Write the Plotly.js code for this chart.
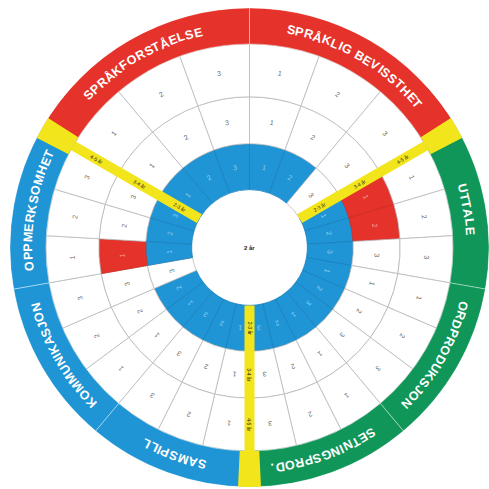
<!DOCTYPE html>
<html><head><meta charset="utf-8">
<script src="https://cdn.plot.ly/plotly-3.0.1.min.js"></script>
<style>html,body{margin:0;padding:0;background:#fff;overflow:hidden}</style>
</head><body><div id="chart" style="width:489px;height:489px"></div>
<script>
// ---------------- data ----------------
const areas = ["SPRÅKFORSTÅELSE","SPRÅKLIG BEVISSTHET","UTTALE","ORDPRODUKSJON","SETNINGSPROD.","SAMSPILL","KOMMUNIKASJON","OPPMERKSOMHET"];
const areaGroup = [0,0,1,1,1,2,2,2];
const ageLevels = ["2-3 år","3-4 år","4-5 år"];
const itemLabels = ["1","2","3"];
const centerLabel = "2 år";
// cell state: 0 = open, 1 = mastered (blue), 2 = marked (red)
const level23 = [[1,1,1],[1,1,0],[1,1,1],[1,1,1],[1,1,1],[1,1,1],[1,1,0],[1,1,1]];
const level34 = [[0,0,0],[0,0,0],[2,2,0],[0,0,0],[0,0,0],[0,0,0],[0,0,0],[2,0,0]];
const level45 = [[0,0,0],[0,0,0],[0,0,0],[0,0,0],[0,0,0],[0,0,0],[0,0,0],[0,0,0]];
const levels = [level23, level34, level45];

// ---------------- styles / geometry ----------------
const groupColors = ["#e5332b","#109659","#1f95d5"];
const yellow = "#f3e51c";
const stateFill = ["#ffffff","#1f95d5","#e5332b"];
const stateLine = ["#b9b9b9","#1a80bc","#c92b23"];
const stateText = ["#6a6a6a","#93cff0","#f6aaa5"];
const ringEdges = [58,104,151,204];
const OUTER = 240;
const START = 300, GROUPSPAN = 120;
const FONT = '"Liberation Sans", Arial, sans-serif';

const nInGroup = areaGroup.map(g => areaGroup.filter(x => x === g).length);
const areaWidth = nInGroup.map(n => GROUPSPAN / n);
const areaStart = [];
let cur = START;
areaWidth.forEach(w => { areaStart.push(cur % 360); cur += w; });
const boundaries = [0,1,2].map(g => (START + g*GROUPSPAN) % 360);

const rad = d => d*Math.PI/180;
const norm180 = a => { a = ((a % 360) + 360) % 360; return a > 180 ? a - 360 : a; };
const normRead = a => { a = norm180(a); if (a > 90) a -= 180; if (a <= -90) a += 180; return a; };

const traces = [];
const annotations = [];

// ring cells
levels.forEach((lev, k) => {
  const r0 = ringEdges[k], r1 = ringEdges[k+1];
  const th=[], w=[], fill=[], line=[];
  lev.forEach((cells, i) => {
    const cw = areaWidth[i]/cells.length;
    cells.forEach((s, j) => {
      const t = areaStart[i] + (j+0.5)*cw;
      th.push(t); w.push(cw); fill.push(stateFill[s]); line.push(stateLine[s]);
      const rm = (r0+r1)/2;
      annotations.push({xref:'x',yref:'y',x:rm*Math.sin(rad(t)),y:rm*Math.cos(rad(t)),
        text:itemLabels[j],showarrow:false,textangle:norm180(t),
        font:{family:FONT,size:7,color:stateText[s]}});
    });
  });
  traces.push({type:'barpolar',r:th.map(()=>r1-r0),base:th.map(()=>r0),theta:th,width:w,
    marker:{color:fill,line:{color:line,width:0.8}},hoverinfo:'skip'});
});

// outer category ring
traces.push({type:'barpolar',
  r:areas.map(()=>OUTER-ringEdges[3]), base:areas.map(()=>ringEdges[3]),
  theta:areas.map((a,i)=>areaStart[i]+areaWidth[i]/2), width:areaWidth,
  marker:{color:areaGroup.map(g=>groupColors[g]),line:{color:'rgba(255,255,255,0.55)',width:0.7}},
  hoverinfo:'skip'});
// yellow blocks in outer ring
traces.push({type:'barpolar',
  r:boundaries.map(()=>OUTER-ringEdges[3]), base:boundaries.map(()=>ringEdges[3]),
  theta:boundaries, width:boundaries.map(()=>5.5),
  marker:{color:yellow,line:{width:0}}, hoverinfo:'skip'});
// yellow separator bands through the rings
const sr=[], st=[];
boundaries.forEach(b => { sr.push(ringEdges[0], ringEdges[3], null); st.push(b, b, null); });
traces.push({type:'scatterpolar',mode:'lines',r:sr,theta:st,
  line:{color:yellow,width:10},hoverinfo:'skip',connectgaps:false});
// empty cartesian trace so the overlay axes exist
traces.push({type:'scatter',x:[],y:[],xaxis:'x',yaxis:'y',hoverinfo:'skip'});

// age labels in yellow bands
boundaries.forEach(b => {
  ageLevels.forEach((lab, k) => {
    const rm = (ringEdges[k]+ringEdges[k+1])/2;
    annotations.push({xref:'x',yref:'y',x:rm*Math.sin(rad(b)),y:rm*Math.cos(rad(b)),
      text:lab,showarrow:false,textangle:normRead(b-90),
      font:{family:FONT,size:5,color:'#222'}});
  });
});
// centre label
annotations.push({xref:'x',yref:'y',x:0,y:0,text:'<b>'+centerLabel+'</b>',showarrow:false,
  font:{family:FONT,size:6,color:'#222'}});

// curved category labels
const ctx = document.createElement('canvas').getContext('2d');
const LFS = 12.5;
ctx.font = 'bold ' + LFS + 'px "Liberation Sans"';
const RL = (ringEdges[3]+OUTER)/2 - 0.5;
const spacing = 0.6;
areas.forEach((name, i) => {
  const chars = Array.from(name);
  const ws = chars.map(c => ctx.measureText(c).width);
  const total = ws.reduce((a,b)=>a+b,0) + spacing*(chars.length-1);
  const mid = areaStart[i] + areaWidth[i]/2;
  let pos = -total/2;
  chars.forEach((c, j) => {
    const center = pos + ws[j]/2;
    pos += ws[j] + spacing;
    if (c === ' ') return;
    const t = mid + (center/RL)*180/Math.PI;
    annotations.push({xref:'x',yref:'y',x:RL*Math.sin(rad(t)),y:RL*Math.cos(rad(t)),
      text:'<b>'+c+'</b>',showarrow:false,textangle:norm180(t),
      font:{family:FONT,size:LFS,color:'#ffffff'}});
  });
});

const layout = {
  width:489, height:489,
  margin:{l:10,r:0,t:8,b:2,pad:0},
  paper_bgcolor:'#ffffff', plot_bgcolor:'rgba(0,0,0,0)',
  showlegend:false,
  polar:{domain:{x:[0,1],y:[0,1]},bgcolor:'#ffffff',hole:0,
    radialaxis:{range:[0,OUTER],visible:false},
    angularaxis:{rotation:90,direction:'clockwise',visible:false}},
  xaxis:{range:[-OUTER,OUTER],visible:false,showgrid:false,zeroline:false,fixedrange:true},
  yaxis:{range:[-OUTER,OUTER],visible:false,showgrid:false,zeroline:false,fixedrange:true},
  annotations:annotations
};
Plotly.newPlot('chart', traces, layout, {displayModeBar:false,staticPlot:true});
</script>
</body></html>
